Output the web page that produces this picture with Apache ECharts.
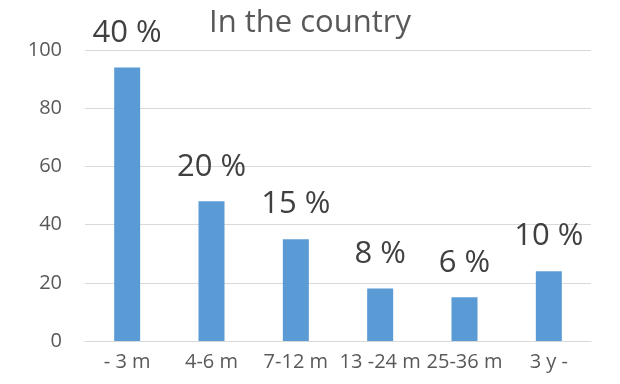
<!DOCTYPE html>
<html>
<head>
<meta charset="utf-8">
<script src="https://cdn.jsdelivr.net/npm/echarts@6/dist/echarts.min.js"></script>
<style>
  html, body { margin: 0; padding: 0; background: #fff; }
  #chart { width: 620px; height: 384px; }
</style>
</head>
<body>
<div id="chart"></div>
<script>
// Age groups along the x axis
const categories = ['- 3 m', '4-6 m', '7-12 m', '13 -24 m', '25-36 m', '3 y -'];
// Bar heights (count per age group)
const counts = [94, 48, 35, 18, 15, 24];
// Share of the total, shown above each bar
const shares = [40, 20, 15, 8, 6, 10];
// Value axis ticks
const yTicks = [0, 20, 40, 60, 80, 100];

const FONT = '"Open Sans", "Liberation Sans", sans-serif';

const chart = echarts.init(document.getElementById('chart'), null, { renderer: 'canvas' });
chart.setOption({
  animation: false,
  backgroundColor: '#ffffff',
  title: {
    text: 'In the country',
    left: 'center',
    top: 3,
    textStyle: { fontFamily: FONT, fontSize: 31, fontWeight: 'normal', color: '#595959' }
  },
  grid: { left: 85, right: 29, top: 50, bottom: 43 },
  xAxis: {
    type: 'category',
    data: categories,
    axisLine: { show: true, lineStyle: { color: '#d9d9d9', width: 1 } },
    axisTick: { show: false },
    axisLabel: { fontFamily: FONT, fontSize: 20, color: '#595959', margin: 11, interval: 0 }
  },
  yAxis: {
    type: 'value',
    min: yTicks[0],
    max: yTicks[yTicks.length - 1],
    interval: yTicks[1] - yTicks[0],
    axisLine: { show: false },
    axisTick: { show: false },
    splitLine: { lineStyle: { color: '#d9d9d9', width: 1 } },
    axisLabel: { fontFamily: FONT, fontSize: 20, color: '#595959', margin: 23 }
  },
  series: [{
    type: 'bar',
    data: counts,
    barWidth: 26,
    itemStyle: { color: '#5b9bd5' },
    label: {
      show: true,
      position: 'top',
      distance: 19,
      fontFamily: FONT,
      fontSize: 31,
      lineHeight: 31,
      color: '#404040',
      formatter: (p) => shares[p.dataIndex] + ' %'
    }
  }]
});
</script>
</body>
</html>
